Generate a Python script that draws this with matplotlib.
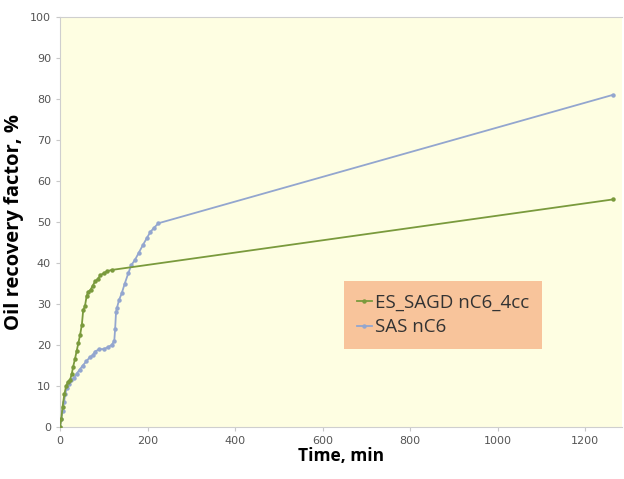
import matplotlib
matplotlib.use("Agg")
import matplotlib.pyplot as plt

# ES_SAGD nC6_4cc
es_time = [0, 3, 6, 10, 14, 18, 23, 27, 30, 34, 38, 42, 46, 50, 53, 57, 61, 65, 70, 75, 80, 86, 92, 100, 108, 118, 1263]
es_rf = [0, 2, 5, 8, 10, 11, 11.5, 13, 14.7, 16.5, 18.5, 20.5, 22.5, 25, 28.5, 29.5, 32, 33, 33.5, 34.5, 35.5, 36, 37, 37.5, 38, 38.3, 55.5]

# SAS nC6
sas_time = [0, 3, 6, 9, 12, 15, 20, 26, 32, 38, 45, 52, 60, 68, 75, 80, 90, 100, 110, 118, 124, 126, 128, 130, 135, 141, 148, 156, 163, 171, 180, 190, 198, 206, 214, 225, 1263]
sas_rf = [0, 2, 4, 6, 8, 9.5, 10.5, 11.5, 12, 13, 14, 15, 16, 17, 17.5, 18.4, 19, 19, 19.5, 20, 21, 24, 28, 29, 31, 32.6, 35, 37.5, 39.5, 40.7, 42.5, 44.5, 46, 47.5, 48.5, 49.7, 81]

x_ticks = [0, 200, 400, 600, 800, 1000, 1200]
y_ticks = [0, 10, 20, 30, 40, 50, 60, 70, 80, 90, 100]

fig = plt.figure(figsize=(6.24, 4.79), dpi=100)
ax = fig.add_axes([60/624, 1-427/479, 562/624, 410/479])
ax.set_facecolor("#fefee2")

green = "#7a9a3c"
blue = "#93a6cf"
ax.plot(es_time, es_rf, color=green, lw=1.3, marker="o", ms=2.2, label="ES_SAGD nC6_4cc", zorder=3)
ax.plot(sas_time, sas_rf, color=blue, lw=1.3, marker="o", ms=2.2, label="SAS nC6", zorder=2)

ax.set_xlim(0, 1284)
ax.set_ylim(0, 100)
ax.set_xticks(x_ticks)
ax.set_yticks(y_ticks)
ax.tick_params(axis="both", colors="#c8c8c8", labelcolor="#555555", labelsize=8, length=3, width=0.8)
for side in ["left", "top", "bottom"]:
    ax.spines[side].set_color("#cfcfcf")
    ax.spines[side].set_linewidth(0.8)
ax.spines["right"].set_visible(False)

ax.set_xlabel("Time, min", fontsize=12.5, fontweight="bold", family="Open Sans", labelpad=1)
ax.set_ylabel("Oil recovery factor, %", fontsize=14.5, fontweight="bold", family="Open Sans", labelpad=4)

leg = ax.legend(loc="upper left", bbox_to_anchor=(0.505, 0.357), frameon=True, fancybox=False,
                facecolor="#f8c49b", edgecolor="none", framealpha=1, handlelength=0.8,
                handletextpad=0.15, borderpad=0.7, labelspacing=0.35, borderaxespad=0,
                prop={"family": "Open Sans", "size": 13.5}, markerscale=1.0)
for t in leg.get_texts():
    t.set_color("#333333")

fig.savefig("out.png", dpi=100)
